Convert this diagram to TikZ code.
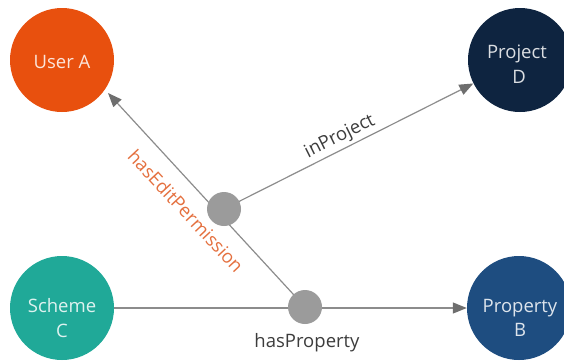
\documentclass[tikz,border=0pt]{standalone}
\usepackage{fontspec}
\setmainfont{Open Sans}
\usetikzlibrary{arrows.meta,backgrounds}

\definecolor{userorange}{HTML}{E8500E}
\definecolor{projnavy}{HTML}{0E2440}
\definecolor{schemeteal}{HTML}{20A998}
\definecolor{propblue}{HTML}{1E4D80}
\definecolor{dotgray}{HTML}{9B9B9B}
\definecolor{edgegray}{HTML}{8C8C8C}
\definecolor{tipgray}{HTML}{6E6E6E}
\definecolor{permorange}{HTML}{E4703F}
\definecolor{labelgray}{HTML}{3C3C3C}

\tikzset{
  entity/.style={circle, minimum size=104pt, inner sep=0pt, draw=none},
  entitytext/.style={text=white, text opacity=0.85, font=\fontsize{18.5}{25}\selectfont, anchor=base},
  hub/.style={circle, minimum size=34pt, inner sep=0pt, fill=dotgray},
  edge/.style={draw=edgegray, line width=1.2pt},
  arrowedge/.style={edge, -{Triangle[length=14pt,width=11pt,color=tipgray]}},
  rellabel/.style={font=\fontsize{18.5}{22}\selectfont, inner sep=0pt},
}

\begin{document}
\begin{tikzpicture}[x=1pt, y=-1pt]
  \useasboundingbox (0,0) rectangle (564,360);

  % entities
  \node[entity, fill=userorange] (ua) at (62,60) {};
  \node[entity, fill=projnavy]   (pd) at (520,60) {};
  \node[entity, fill=schemeteal] (sc) at (62,308) {};
  \node[entity, fill=propblue]   (pb) at (519,308) {};

  \node[entitytext] (ua-l1) at (62,68.5) {User A};
  \node[entitytext] (pd-l1) at (517,58) {Project};
  \node[entitytext] (pd-l2) at (519,83) {D};
  \node[entitytext] (sc-l1) at (62,312) {Scheme};
  \node[entitytext] (sc-l2) at (62,337) {C};
  \node[entitytext] (pb-l1) at (520,312) {Property};
  \node[entitytext] (pb-l2) at (520,336) {B};

  % relation hubs
  \node[hub] (d1) at (224,209) {};
  \node[hub] (d2) at (305,307) {};
  \coordinate (ua-tip) at (108,93);

  % connectors, kept under the hubs
  \begin{scope}[on background layer]
    \draw[arrowedge] (d2.center) -- (ua-tip);
    \draw[arrowedge] (d1.center) -- (pd);
    \draw[arrowedge] (sc) -- (pb);
  \end{scope}

  % relation labels
  \node[rellabel, text=permorange, rotate=-47] (perm) at (186,211) {hasEditPermission};
  \node[rellabel, text=labelgray, rotate=26.5] (inproj) at (340,137) {inProject};
  \node[rellabel, text=labelgray, anchor=base] (hasprop) at (307,347) {hasProperty};
\end{tikzpicture}
\end{document}
